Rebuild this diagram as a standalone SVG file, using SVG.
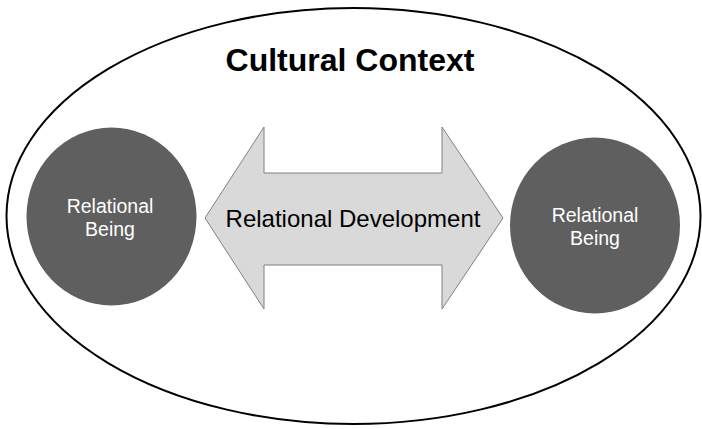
<svg xmlns="http://www.w3.org/2000/svg" width="702" height="429" viewBox="0 0 702 429">
  <style>
    .being { fill: #5f5f5f; }
    .being-label { fill: #ffffff; font-family: "Liberation Sans", Arial, sans-serif; font-size: 19.5px; text-anchor: middle; }
    .title { fill: #000000; font-family: "Liberation Sans", Arial, sans-serif; font-size: 32px; font-weight: bold; text-anchor: middle; }
    .arrow { fill: #d9d9d9; stroke: #808080; stroke-width: 1; }
    .arrow-label { fill: #000000; font-family: "Liberation Sans", Arial, sans-serif; font-size: 24px; text-anchor: middle; }
  </style>
  <rect width="702" height="429" fill="#ffffff"/>

  <!-- outer context -->
  <g id="cultural-context">
    <ellipse cx="353.5" cy="216" rx="347" ry="208" fill="none" stroke="#000000" stroke-width="2"/>
    <text class="title" x="350" y="71">Cultural Context</text>
  </g>

  <!-- connectors -->
  <g id="connectors">
    <g id="relational-development">
      <path class="arrow" d="M205,218 L264,127 L264,173 L442,173 L442,127 L503,218 L442,309 L442,265 L264,265 L264,309 Z"/>
      <text class="arrow-label" x="353" y="227">Relational Development</text>
    </g>
  </g>

  <!-- beings -->
  <g id="being-left">
    <ellipse class="being" cx="111.5" cy="216.5" rx="85" ry="89"/>
    <text class="being-label" x="110" y="213">Relational</text>
    <text class="being-label" x="110" y="236">Being</text>
  </g>
  <g id="being-right">
    <ellipse class="being" cx="595" cy="225.5" rx="85" ry="88"/>
    <text class="being-label" x="595" y="222">Relational</text>
    <text class="being-label" x="595" y="245">Being</text>
  </g>
</svg>
